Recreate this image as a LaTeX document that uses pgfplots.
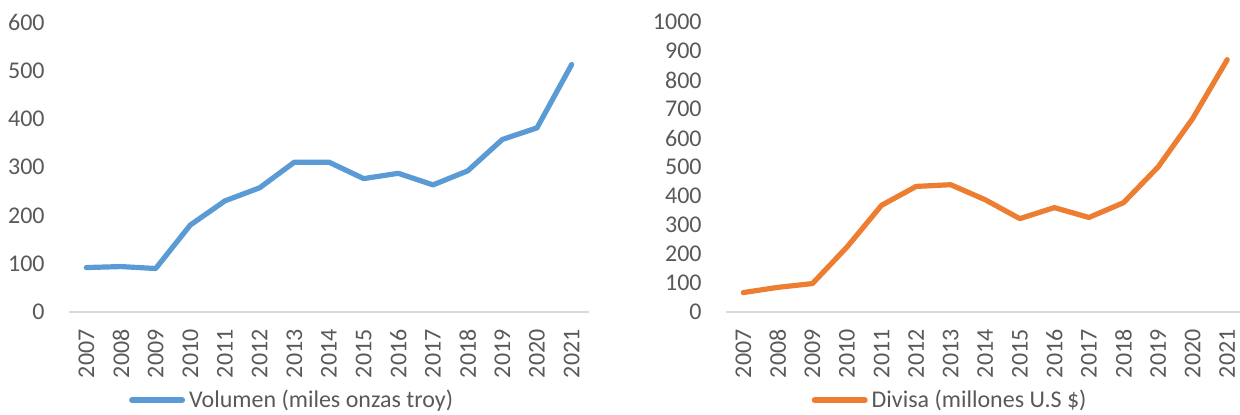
\documentclass[border=0pt]{standalone}
\usepackage{fontspec}
\setmainfont{Carlito}
\usepackage{pgfplots}
\pgfplotsset{compat=1.18}
\definecolor{cblue}{HTML}{5B9BD5}
\definecolor{corange}{HTML}{ED7D31}
\definecolor{ctext}{HTML}{595959}
\definecolor{caxis}{HTML}{D9D9D9}

\pgfplotsset{
  base/.style={
    scale only axis,
    height=145pt,
    ymin=0,
    axis lines*=left,
    y axis line style={draw=none},
    x axis line style={caxis, line width=0.8pt},
    major tick length=0pt,
    xtick={0,...,14},
    xticklabels={2007,2008,2009,2010,2011,2012,2013,2014,2015,2016,2017,2018,2019,2020,2021},
    x tick label style={rotate=90, anchor=east, inner sep=0pt, text=ctext},
    xticklabel shift=8.5pt,
    y tick label style={anchor=east, inner sep=0pt, text=ctext},
    yticklabel shift=12pt,
    /pgf/number format/assume math mode=true,
    /pgf/number format/1000 sep={},
    tick label style={font=\fontsize{12}{14}\selectfont},
    clip=false,
    legend style={draw=none, fill=none, inner sep=0pt, anchor=center,
      font=\fontsize{12}{14}\selectfont, text=ctext,
      legend cell align=left},
    legend image code/.code={\draw[#1, line width=3pt, line cap=round] (0pt,0pt) -- (25pt,0pt);},
  },
}

\begin{document}
\begin{tikzpicture}
\useasboundingbox (0,0) rectangle (620pt,207pt);

\begin{axis}[base,
  at={(34.5pt,51pt)}, anchor=south west,
  width=260pt,
  xmin=-0.5, xmax=14.5,
  ymax=600, ytick={0,100,...,600},
  legend style={at={(0.431,-0.304)}},
]
\addplot[cblue, line width=2.6pt, line cap=round, line join=round] coordinates {
 (0,92) (1,94) (2,90) (3,180) (4,230) (5,257) (6,310) (7,310)
 (8,276) (9,287) (10,263) (11,292) (12,357) (13,381) (14,512)
};
\addlegendentry{Volumen (miles onzas troy)}
\end{axis}

\begin{axis}[base,
  at={(363pt,51pt)}, anchor=south west,
  width=257pt,
  xmin=-0.5, xmax=14.37,
  ymax=1000, ytick={0,100,...,1000},
  legend style={at={(0.438,-0.304)}},
]
\addplot[corange, line width=2.6pt, line cap=round, line join=round] coordinates {
 (0,67) (1,85) (2,98) (3,224) (4,368) (5,433) (6,439) (7,387)
 (8,322) (9,360) (10,326) (11,377) (12,500) (13,667) (14,870)
};
\addlegendentry{Divisa (millones U.S \$)}
\end{axis}
\end{tikzpicture}
\end{document}
